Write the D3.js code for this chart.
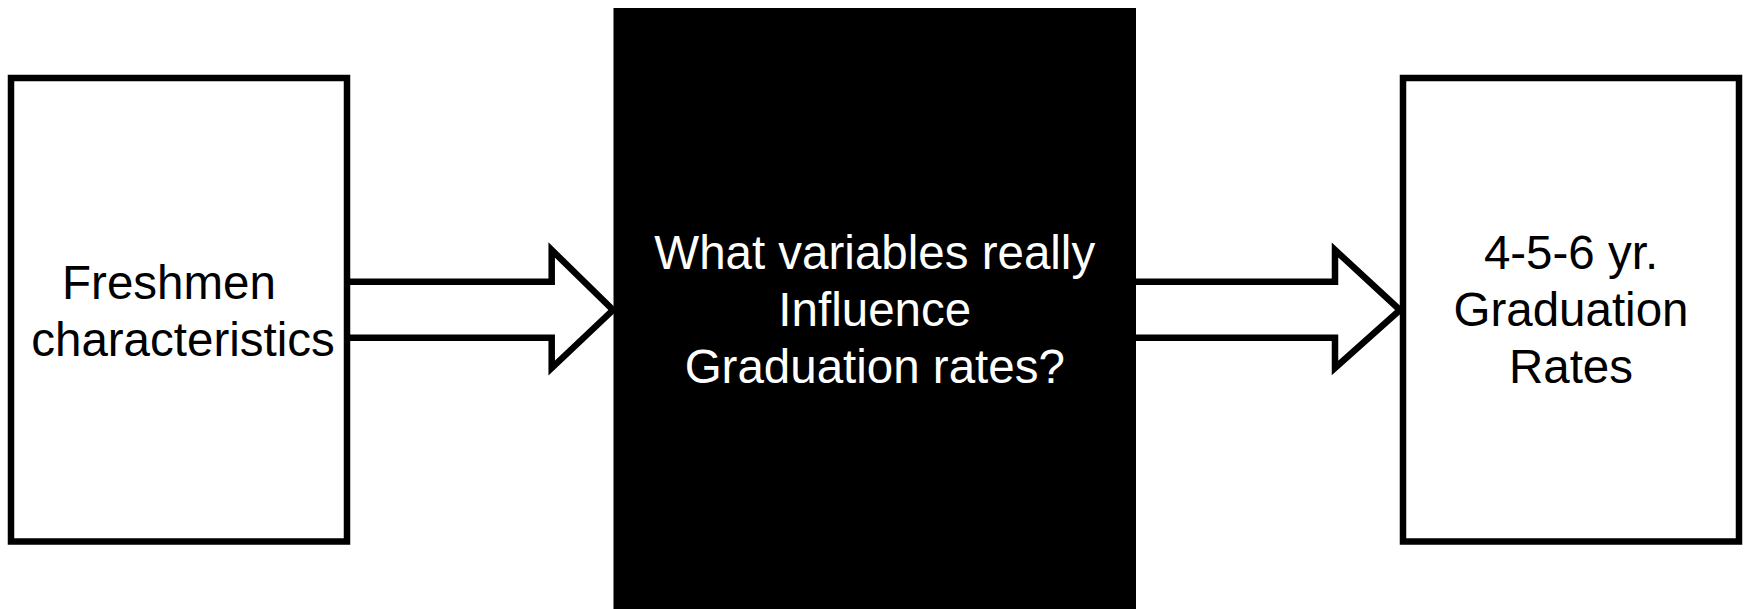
<!DOCTYPE html>
<html>
<head>
<meta charset="utf-8">
<script src="https://cdn.jsdelivr.net/npm/d3@7"></script>
<style>
  body { margin: 0; background: #fff; }
  text { font-family: 'Liberation Sans', Arial, sans-serif; }
</style>
</head>
<body>
<div id="chart"></div>
<script>
let leftLabel = ['Freshmen', 'characteristics']
let middleLabel = ['What variables really', 'Influence', 'Graduation rates?']
let rightLabel = ['4-5-6 yr.', 'Graduation', 'Rates']

let width = 1747
let height = 609

let svg = d3
  .select('#chart')
  .append('svg')
  .attr('width', width)
  .attr('height', height)

// boxes (stroke centre lines)
let boxes = [
  { x0: 11, x1: 347, y0: 78, y1: 541.5, lines: leftLabel, fill: '#fff', color: '#000', dx: [-10, 4] },
  { x0: 613.5, x1: 1136, y0: 8, y1: 620, lines: middleLabel, fill: '#000', color: '#fff', dx: [0, 0, 0] },
  { x0: 1403, x1: 1739, y0: 78, y1: 541.5, lines: rightLabel, fill: '#fff', color: '#000', dx: [0, 0, 0] }
]

// arrows between boxes
let arrows = [
  { from: 347, base: 551.7, tip: 613 },
  { from: 1136, base: 1335, tip: 1400 }
]

let shaftTop = 281.7
let shaftBottom = 337.7
let headTop = 250
let headBottom = 368
let tipY = 310

let arrowPath = d3.line()

// arrows first so the box borders sit on top
svg
  .selectAll('.arrow')
  .data(arrows)
  .enter()
  .append('path')
  .attr('class', 'arrow')
  .attr('d', d =>
    arrowPath([
      [d.from, shaftTop],
      [d.base, shaftTop],
      [d.base, headTop],
      [d.tip, tipY],
      [d.base, headBottom],
      [d.base, shaftBottom],
      [d.from, shaftBottom]
    ])
  )
  .attr('fill', '#fff')
  .attr('stroke', '#000')
  .attr('stroke-width', 6.5)
  .attr('stroke-linejoin', 'miter')

svg
  .selectAll('.box')
  .data(boxes)
  .enter()
  .append('rect')
  .attr('class', 'box')
  .attr('x', d => d.x0)
  .attr('y', d => d.y0)
  .attr('width', d => d.x1 - d.x0)
  .attr('height', d => d.y1 - d.y0)
  .attr('fill', d => d.fill)
  .attr('stroke', d => (d.fill === '#000' ? 'none' : '#000'))
  .attr('stroke-width', 6.5)

// labels
let lineHeight = 57
boxes.forEach(b => {
  let cx = (b.x0 + b.x1) / 2
  let firstBaseline = b.lines.length === 2 ? 299 : 269
  svg
    .append('g')
    .selectAll('text')
    .data(b.lines)
    .enter()
    .append('text')
    .attr('x', (d, i) => cx + b.dx[i])
    .attr('y', (d, i) => firstBaseline + i * lineHeight)
    .attr('text-anchor', 'middle')
    .attr('font-size', 47.5)
    .attr('fill', b.color)
    .text(d => d)
})
</script>
</body>
</html>
